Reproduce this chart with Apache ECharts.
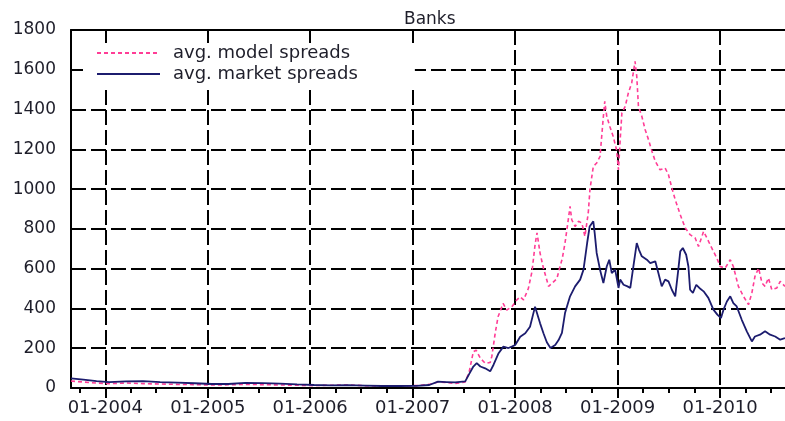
<!DOCTYPE html>
<html>
<head>
<meta charset="utf-8">
<script src="https://cdn.jsdelivr.net/npm/echarts@6/dist/echarts.min.js"></script>
<style>
html, body { margin: 0; padding: 0; background: #fff; }
#chart { width: 785px; height: 421px; }
</style>
</head>
<body>
<div id="chart"></div>
<script>
// Axis range and ticks
const rangeStart = '2003-09-01';
const rangeEnd = '2010-08-20';
const yearTicks = ['2004-01-01', '2005-01-01', '2006-01-01', '2007-01-01', '2008-01-01', '2009-01-01', '2010-01-01'];
const quarterTicks = [
  '2003-10-01',
  '2004-04-01', '2004-07-01', '2004-10-01',
  '2005-04-01', '2005-07-01', '2005-10-01',
  '2006-04-01', '2006-07-01', '2006-10-01',
  '2007-04-01', '2007-07-01', '2007-10-01',
  '2008-04-01', '2008-07-01', '2008-10-01',
  '2009-04-01', '2009-07-01', '2009-10-01',
  '2010-04-01', '2010-07-01'
];
const spreadTicks = [0, 200, 400, 600, 800, 1000, 1200, 1400, 1600, 1800];

// Average model spreads (bp)
const modelDates = [
  '2003-09-01', '2003-10-15', '2003-12-01', '2004-01-15', '2004-03-15', '2004-05-15', '2004-07-15', '2004-09-15',
  '2004-11-15', '2005-01-15', '2005-03-15', '2005-05-15', '2005-07-15', '2005-09-15', '2005-11-15', '2006-01-15',
  '2006-03-15', '2006-05-15', '2006-07-15', '2006-09-15', '2006-11-15', '2007-01-15', '2007-03-01', '2007-04-01',
  '2007-05-01', '2007-06-01', '2007-07-07', '2007-07-21', '2007-08-05', '2007-08-15', '2007-08-30', '2007-09-16',
  '2007-10-04', '2007-10-10', '2007-10-22', '2007-11-01', '2007-11-19', '2007-12-02', '2007-12-20', '2008-01-07',
  '2008-01-19', '2008-01-31', '2008-02-17', '2008-03-01', '2008-03-12', '2008-03-19', '2008-03-30', '2008-04-11',
  '2008-04-23', '2008-04-29', '2008-05-11', '2008-05-29', '2008-06-09', '2008-06-17', '2008-06-27', '2008-07-09',
  '2008-07-15', '2008-07-21', '2008-08-02', '2008-08-14', '2008-08-26', '2008-09-06', '2008-09-18', '2008-09-24',
  '2008-10-06', '2008-10-18', '2008-10-30', '2008-11-05', '2008-11-11', '2008-11-16', '2008-11-23', '2008-12-04',
  '2008-12-16', '2008-12-28', '2009-01-04', '2009-01-10', '2009-01-16', '2009-01-28', '2009-02-08', '2009-02-20',
  '2009-03-04', '2009-03-10', '2009-03-16', '2009-03-28', '2009-04-09', '2009-04-21', '2009-05-03', '2009-05-15',
  '2009-06-01', '2009-06-19', '2009-07-01', '2009-07-13', '2009-07-25', '2009-08-12', '2009-08-30', '2009-09-16',
  '2009-10-04', '2009-10-16', '2009-11-03', '2009-11-15', '2009-12-02', '2009-12-20', '2010-01-01', '2010-01-19',
  '2010-02-06', '2010-02-17', '2010-03-07', '2010-03-25', '2010-04-12', '2010-04-24', '2010-05-05', '2010-05-18',
  '2010-05-30', '2010-06-10', '2010-06-22', '2010-07-04', '2010-07-22', '2010-08-03', '2010-08-20'
];
const modelSpreads = [
  35, 30, 25, 22, 25, 22, 20, 18,
  17, 15, 16, 18, 17, 15, 14, 12,
  14, 15, 12, 10, 11, 12, 18, 30,
  28, 22, 30, 80, 183, 190, 150, 125,
  128, 160, 277, 358, 425, 392, 408, 443,
  458, 443, 500, 585, 720, 780, 677, 602,
  543, 511, 526, 550, 610, 650, 729, 850,
  913, 846, 812, 838, 830, 762, 880, 997,
  1114, 1131, 1164, 1265, 1366, 1441, 1366, 1315,
  1265, 1198, 1097, 1248, 1383, 1416, 1483, 1534,
  1642, 1567, 1416, 1366, 1299, 1248, 1190, 1140,
  1097, 1106, 1072, 1006, 947, 871, 804, 771,
  754, 712, 787, 754, 704, 654, 611, 603,
  645, 611, 511, 461, 419, 478, 561, 603,
  528, 511, 553, 494, 503, 536, 511
];

// Average market spreads (bp)
const marketDates = [
  '2003-09-01', '2003-10-15', '2003-12-01', '2004-01-15', '2004-03-15', '2004-05-15', '2004-07-15', '2004-09-15',
  '2004-11-15', '2005-01-15', '2005-03-15', '2005-05-15', '2005-07-15', '2005-09-15', '2005-11-15', '2006-01-15',
  '2006-03-15', '2006-05-15', '2006-07-15', '2006-09-15', '2006-11-15', '2007-01-15', '2007-03-01', '2007-04-01',
  '2007-05-01', '2007-06-01', '2007-07-07', '2007-07-21', '2007-08-05', '2007-08-17', '2007-08-30', '2007-09-16',
  '2007-10-04', '2007-10-16', '2007-11-03', '2007-11-20', '2007-12-08', '2007-12-20', '2008-01-01', '2008-01-19',
  '2008-02-06', '2008-02-23', '2008-03-12', '2008-03-18', '2008-03-30', '2008-04-11', '2008-04-23', '2008-05-06',
  '2008-05-23', '2008-06-04', '2008-06-16', '2008-06-27', '2008-07-15', '2008-08-02', '2008-08-20', '2008-09-01',
  '2008-09-14', '2008-09-23', '2008-10-06', '2008-10-11', '2008-10-18', '2008-10-30', '2008-11-11', '2008-11-23',
  '2008-12-02', '2008-12-11', '2008-12-23', '2009-01-04', '2009-01-10', '2009-01-22', '2009-02-05', '2009-02-15',
  '2009-02-26', '2009-03-10', '2009-03-18', '2009-03-28', '2009-04-15', '2009-04-27', '2009-05-15', '2009-05-26',
  '2009-06-07', '2009-06-19', '2009-07-01', '2009-07-13', '2009-07-25', '2009-08-05', '2009-08-12', '2009-08-21',
  '2009-09-02', '2009-09-10', '2009-09-16', '2009-09-26', '2009-10-08', '2009-10-19', '2009-11-03', '2009-11-20',
  '2009-12-08', '2009-12-22', '2010-01-04', '2010-01-13', '2010-01-25', '2010-02-06', '2010-02-17', '2010-03-01',
  '2010-03-19', '2010-04-06', '2010-04-24', '2010-05-05', '2010-05-23', '2010-06-10', '2010-06-28', '2010-07-16',
  '2010-08-03', '2010-08-20'
];
const marketSpreads = [
  48, 42, 35, 30, 33, 35, 30, 27,
  24, 20, 20, 26, 25, 22, 18, 15,
  13, 14, 12, 10, 10, 11, 15, 32,
  30, 28, 33, 70, 108, 125, 108, 99,
  84, 117, 175, 208, 201, 208, 216, 258,
  275, 308, 409, 400, 325, 275, 230, 201,
  216, 241, 277, 377, 461, 511, 545, 595,
  729, 812, 838, 779, 679, 595, 528, 611,
  645, 578, 595, 503, 545, 519, 511, 503,
  611, 729, 695, 662, 645, 628, 637, 578,
  511, 545, 536, 494, 461, 595, 687, 704,
  670, 611, 494, 478, 519, 503, 486, 453,
  394, 369, 352, 394, 435, 461, 427, 410,
  343, 285, 234, 259, 268, 285, 268, 259,
  243, 251
];

// Date string -> fractional year
function toYear(s) {
  const p = s.split('-').map(Number);
  const t = Date.UTC(p[0], p[1] - 1, p[2]);
  const a = Date.UTC(p[0], 0, 1);
  const b = Date.UTC(p[0] + 1, 0, 1);
  return p[0] + (t - a) / (b - a);
}

const FONT = 'DejaVu Sans';
const INK = '#1e1e2a';
const xMin = toYear(rangeStart);
const xMax = toYear(rangeEnd);
const yearVals = yearTicks.map(toYear);
const quarterVals = quarterTicks.map(toYear);

const chart = echarts.init(document.getElementById('chart'), null, { renderer: 'canvas' });
chart.setOption({
  animation: false,
  backgroundColor: '#fff',
  title: {
    text: 'Banks',
    left: 404,
    top: 11,
    padding: 0,
    textStyle: { fontFamily: FONT, fontSize: 17, fontWeight: 'normal', color: INK }
  },
  legend: {
    data: ['avg. model spreads', 'avg. market spreads'],
    orient: 'vertical',
    left: 83,
    top: 43,
    itemWidth: 63,
    itemHeight: 16,
    itemGap: 3,
    padding: [1, 57, 3, 13],
    backgroundColor: '#fff',
    borderWidth: 0,
    itemStyle: { color: 'rgba(0,0,0,0)', borderWidth: 0 },
    textStyle: { fontFamily: FONT, fontSize: 18, color: INK, lineHeight: 16, padding: [0, 0, 0, 8] }
  },
  grid: { left: 71, right: 0, top: 30, bottom: 33 },
  xAxis: [
    {
      type: 'value',
      position: 'bottom',
      min: xMin,
      max: xMax,
      axisLine: { show: true, lineStyle: { color: '#000', width: 2 } },
      axisTick: { show: true, customValues: yearVals, length: 10, lineStyle: { color: '#000', width: 2 } },
      axisLabel: {
        customValues: yearVals,
        margin: 11,
        fontFamily: FONT,
        fontSize: 18,
        color: INK,
        formatter: v => '01-' + Math.round(v)
      },
      splitLine: { show: true, lineStyle: { color: '#000', width: 2, type: [15, 5] } }
    },
    {
      type: 'value',
      position: 'bottom',
      min: xMin,
      max: xMax,
      axisLine: { show: false },
      axisTick: { show: true, customValues: quarterVals, length: 5, lineStyle: { color: '#000', width: 2 } },
      axisLabel: { show: false },
      splitLine: { show: false }
    },
    {
      type: 'value',
      position: 'top',
      min: xMin,
      max: xMax,
      axisLine: { show: true, lineStyle: { color: '#000', width: 2 } },
      axisTick: { show: false },
      axisLabel: { show: false },
      splitLine: { show: false }
    }
  ],
  yAxis: {
    type: 'value',
    min: spreadTicks[0],
    max: spreadTicks[spreadTicks.length - 1],
    interval: 200,
    axisLine: { show: true, lineStyle: { color: '#000', width: 2 } },
    axisTick: { show: true, inside: true, length: 11, lineStyle: { color: '#000', width: 2 } },
    axisLabel: { margin: 15, fontFamily: FONT, fontSize: 17, color: INK, formatter: v => String(v) },
    splitLine: { show: true, lineStyle: { color: '#000', width: 2, type: [15, 5] } }
  },
  series: [
    {
      name: 'avg. model spreads',
      type: 'line',
      xAxisIndex: 0,
      showSymbol: false,
      symbol: 'none',
      lineStyle: { color: '#ff3d96', width: 1.6, type: [4, 3] },
      itemStyle: { color: '#ff3d96' },
      data: modelDates.map((d, i) => [toYear(d), modelSpreads[i]])
    },
    {
      name: 'avg. market spreads',
      type: 'line',
      xAxisIndex: 0,
      showSymbol: false,
      symbol: 'none',
      lineStyle: { color: '#1c1c6e', width: 1.8 },
      itemStyle: { color: '#1c1c6e' },
      data: marketDates.map((d, i) => [toYear(d), marketSpreads[i]])
    }
  ]
});
</script>
</body>
</html>
